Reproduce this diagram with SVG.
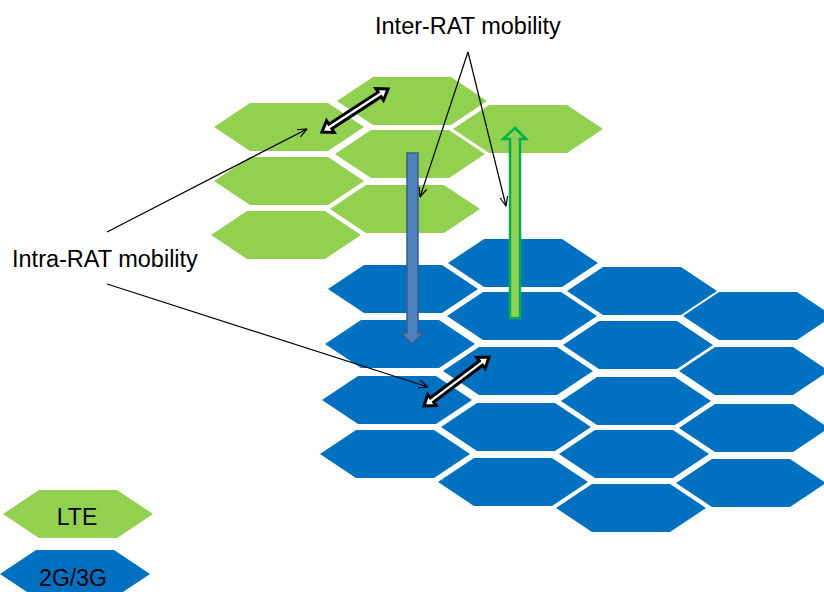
<svg xmlns="http://www.w3.org/2000/svg" xmlns:xlink="http://www.w3.org/1999/xlink" width="824" height="592" viewBox="0 0 824 592">
<style>
.lte{fill:#92D050}
.g23{fill:#0070C0}
.lbl{font-family:"Liberation Sans",Arial,sans-serif;font-size:23.5px;fill:#000}
.leg{font-family:"Liberation Sans",Arial,sans-serif;font-size:23px;fill:#000;text-anchor:middle}
.thin{fill:none;stroke:#000;stroke-width:1.2;marker-end:url(#open)}
.dbl{fill:#fff;stroke:#000;stroke-width:3;stroke-linejoin:miter}
</style>
<defs>
<path id="hex" d="M0,24 L36,0 L114,0 L150,24 L114,48 L36,48 Z"/>
<marker id="open" viewBox="0 0 10 10" refX="9.5" refY="5" markerWidth="10" markerHeight="10" markerUnits="userSpaceOnUse" orient="auto">
<path d="M0,1 L9.5,5 L0,9" fill="none" stroke="#000" stroke-width="1.2"/>
</marker>
</defs>
<rect width="824" height="592" fill="#fff"/>
<g id="lte-cells">
<g id="g1"><use xlink:href="#hex" class="lte" x="214" y="103"/></g>
<g id="g2"><use xlink:href="#hex" class="lte" x="214" y="157"/></g>
<g id="g3"><use xlink:href="#hex" class="lte" x="211" y="211"/></g>
<g id="g4"><use xlink:href="#hex" class="lte" x="337" y="77"/></g>
<g id="g5"><use xlink:href="#hex" class="lte" x="335" y="130"/></g>
<g id="g6"><use xlink:href="#hex" class="lte" x="330" y="185"/></g>
<g id="g7"><use xlink:href="#hex" class="lte" x="453" y="105"/></g>
</g>
<g id="g23-cells">
<g id="b1"><use xlink:href="#hex" class="g23" x="328" y="265"/></g>
<g id="b2"><use xlink:href="#hex" class="g23" x="325" y="320"/></g>
<g id="b3"><use xlink:href="#hex" class="g23" x="322" y="376"/></g>
<g id="b4"><use xlink:href="#hex" class="g23" x="320" y="430"/></g>
<g id="c1"><use xlink:href="#hex" class="g23" x="448" y="239"/></g>
<g id="c2"><use xlink:href="#hex" class="g23" x="447" y="292"/></g>
<g id="c3"><use xlink:href="#hex" class="g23" x="443" y="347"/></g>
<g id="c4"><use xlink:href="#hex" class="g23" x="441" y="403"/></g>
<g id="c5"><use xlink:href="#hex" class="g23" x="438" y="458"/></g>
<g id="d1"><use xlink:href="#hex" class="g23" x="567" y="267"/></g>
<g id="d2"><use xlink:href="#hex" class="g23" x="563" y="321"/></g>
<g id="d3"><use xlink:href="#hex" class="g23" x="561" y="377"/></g>
<g id="d4"><use xlink:href="#hex" class="g23" x="559" y="430"/></g>
<g id="d5"><use xlink:href="#hex" class="g23" x="556" y="484"/></g>
<g id="e1"><use xlink:href="#hex" class="g23" x="683" y="292"/></g>
<g id="e2"><use xlink:href="#hex" class="g23" x="679" y="347"/></g>
<g id="e3"><use xlink:href="#hex" class="g23" x="679" y="404"/></g>
<g id="e4"><use xlink:href="#hex" class="g23" x="676" y="459"/></g>
</g>
<g id="legend-lte"><use xlink:href="#hex" class="lte" x="3" y="490"/><text class="leg" x="77" y="525">LTE</text></g>
<g id="legend-g23"><use xlink:href="#hex" class="g23" x="0" y="550"/><text class="leg" x="73" y="586">2G/3G</text></g>
<g id="label-inter"><text class="lbl" x="375" y="34">Inter-RAT mobility</text></g>
<g id="label-intra"><text class="lbl" x="12" y="267">Intra-RAT mobility</text></g>
<g id="connectors">
<path d="M407,153 L418,153 L418,333 L423,333 L412,344 L401,333 L407,333 Z" fill="#4F81BD" stroke="#385D8A" stroke-width="1.5"/>
<path d="M515,128 L526,139 L520,139 L520,318 L510,318 L510,139 L503,139 Z" fill="#92D050" stroke="#00B050" stroke-width="2.5"/>
<path class="thin" d="M468,52 L420,197"/>
<path class="thin" d="M468,52 L506,206"/>
<path class="thin" d="M107,232 L307,129"/>
<path class="thin" d="M107,284 L428,387"/>
<path class="dbl" transform="translate(322,132) rotate(-33.1)" d="M0,0 L10,-7 L10,-2.7 L68.8,-2.7 L68.8,-7 L78.8,0 L68.8,7 L68.8,2.7 L10,2.7 L10,7 Z"/>
<path class="dbl" transform="translate(424,406) rotate(-37)" d="M0,0 L10,-7 L10,-2.7 L71.4,-2.7 L71.4,-7 L81.4,0 L71.4,7 L71.4,2.7 L10,2.7 L10,7 Z"/>
</g>
</svg>
